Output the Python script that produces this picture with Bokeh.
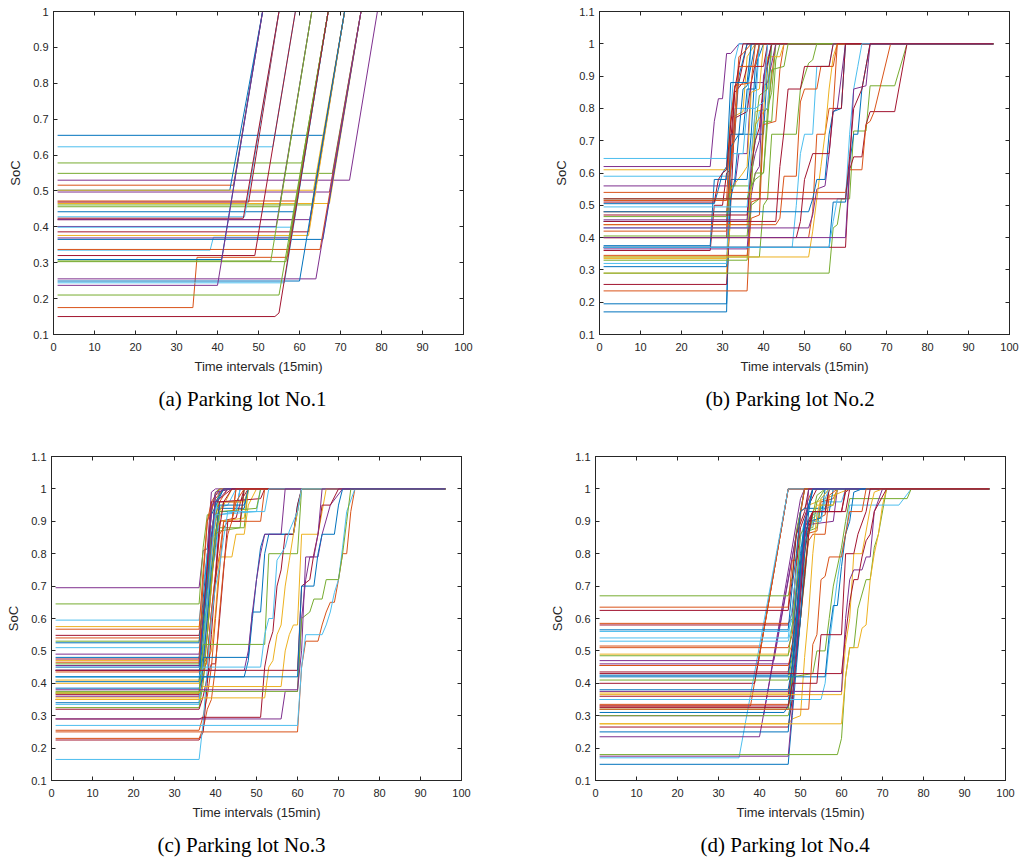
from bokeh.plotting import figure
from bokeh.models import (Range1d, FixedTicker, LinearAxis, CustomJSTickFormatter,
                          Title, ColumnDataSource)
from bokeh.layouts import column, row
from bokeh.embed import file_html
from bokeh.resources import INLINE

# ---------------- data ----------------
COLORS = ["#0072BD", "#D95319", "#EDB120", "#7E2F8E", "#77AC30", "#4DBEEE", "#A2142F"]
START = 1          # first time interval
HORIZON = 96       # last time interval
FULL = 1.0         # full state of charge
X_TICKS = [0, 10, 20, 30, 40, 50, 60, 70, 80, 90, 100]
Y_TICKS_1 = [0.1, 0.2, 0.3, 0.4, 0.5, 0.6, 0.7, 0.8, 0.9, 1.0]
Y_TICKS_2 = [0.1, 0.2, 0.3, 0.4, 0.5, 0.6, 0.7, 0.8, 0.9, 1.0, 1.1]
X_LABEL = "Time intervals (15min)"
Y_LABEL = "SoC"
CAPTIONS = ["(a) Parking lot No.1", "(b) Parking lot No.2",
            "(c) Parking lot No.3", "(d) Parking lot No.4"]

# each vehicle: (colour index, [(interval, SoC) break points after the idle period])
LOT1 = [
    (0, [(66, 0.655), (71, 1)]),
    (5, [(53.5, 0.623), (59, 1)]),
    (4, [(60.6, 0.578), (67, 1)]),
    (4, [(68, 0.549), (75, 1)]),
    (3, [(72.2, 0.530), (79, 1)]),
    (1, [(43.9, 0.516), (51, 1)]),
    (0, [(43, 0.502), (51, 1)]),
    (2, [(63.4, 0.502), (71, 1)]),
    (3, [(67.3, 0.497), (75, 1)]),
    (1, [(59.2, 0.472), (67, 1)]),
    (6, [(47.6, 0.469), (55, 1)]),
    (2, [(67.3, 0.465), (75, 1)]),
    (4, [(63, 0.461), (71, 1)]),
    (4, [(55.2, 0.456), (63, 1)]),
    (0, [(59, 0.442), (67, 1)]),
    (5, [(46.6, 0.428), (55, 1)]),
    (6, [(46.3, 0.424), (55, 1)]),
    (6, [(58.4, 0.420), (67, 1)]),
    (3, [(62.5, 0.420), (71, 1)]),
    (3, [(54.3, 0.401), (63, 1)]),
    (5, [(58.4, 0.399), (67, 1)]),
    (6, [(62.2, 0.386), (71, 1)]),
    (2, [(62.2, 0.376), (71, 1)]),
    (5, [(38.2, 0.335), (39, 0.371), (57.7, 0.371), (67, 1)]),
    (3, [(57.7, 0.369), (67, 1)]),
    (0, [(65.7, 0.365), (75, 1)]),
    (1, [(65, 0.337), (75, 1)]),
    (6, [(49.1, 0.320), (59, 1)]),
    (1, [(34, 0.175), (35, 0.315), (57, 0.315), (67, 1)]),
    (4, [(53, 0.305), (63, 1)]),
    (4, [(56.7, 0.303), (67, 1)]),
    (0, [(41, 0.309), (51, 1)]),
    (3, [(64, 0.255), (75, 1)]),
    (0, [(60, 0.249), (71, 1)]),
    (5, [(56.3, 0.244), (67, 1)]),
    (3, [(40, 0.237), (51, 1)]),
    (4, [(55, 0.210), (67, 1)]),
    (6, [(54, 0.150), (55, 0.160), (67, 1)]),
]

LOT2 = [
    (3, [(27, 0.62), (28, 0.76), (29, 0.83), (30, 0.83), (31, 0.97), (32, 0.97), (34, 1)]),
    (5, [(31, 0.645), (32, 0.78), (33, 0.95), (34, 1)]),
    (2, [(31, 0.61), (32, 0.77), (35, 0.79), (36, 0.96), (38, 1)]),
    (5, [(32, 0.59), (33, 0.8), (36, 0.8), (37, 1)]),
    (3, [(33, 0.56), (34, 0.66), (36, 0.66), (37, 0.88), (40, 0.88), (41, 1)]),
    (0, [(31, 0.17), (32, 0.72), (35, 0.72), (36, 0.86), (38, 0.86), (39, 1)]),
    (0, [(31, 0.195), (32, 0.58), (33, 0.58), (34, 0.72), (37, 0.72), (38, 0.93), (40, 1)]),
    (6, [(31, 0.255), (32, 0.5), (33, 0.77), (36, 0.79), (37, 0.88), (39, 1)]),
    (1, [(36, 0.235), (37, 0.51), (39, 0.52), (40, 0.79), (41, 0.8), (43, 1)]),
    (2, [(31, 0.29), (32, 0.55), (35, 0.6), (36, 0.62), (37, 0.85), (39, 0.86), (40, 1)]),
    (0, [(31, 0.31), (32, 0.52), (33, 0.58), (36, 0.58), (37, 0.72), (40, 0.72), (41, 0.93), (42, 1)]),
    (5, [(31, 0.32), (32, 0.66), (35, 0.66), (36, 0.8), (38, 0.8), (39, 1)]),
    (4, [(36, 0.33), (37, 0.5), (39, 0.52), (40, 0.76), (42, 0.76), (43, 0.95), (44, 1)]),
    (2, [(31, 0.335), (32, 0.45), (36, 0.45), (37, 0.63), (38, 0.79), (41, 0.8), (42, 1)]),
    (1, [(36, 0.345), (37, 0.46), (39, 0.47), (40, 0.75), (43, 0.76), (44, 0.92), (45, 1)]),
    (6, [(27, 0.36), (28, 0.5), (30, 0.5), (31, 0.6), (32, 0.61), (33, 0.87), (34, 0.88), (36, 1)]),
    (0, [(27, 0.375), (28, 0.58), (31, 0.58), (32, 0.72), (33, 0.72), (34, 0.9), (36, 1)]),
    (3, [(36, 0.365), (37, 0.53), (38, 0.6), (39, 0.62), (40, 0.9), (42, 1)]),
    (6, [(31, 0.40), (32, 0.7), (33, 0.85), (35, 0.88), (36, 0.93), (40, 0.93), (41, 1)]),
    (4, [(36, 0.405), (37, 0.55), (38, 0.6), (40, 0.6), (41, 0.8), (42, 0.85), (43, 1)]),
    (1, [(31, 0.42), (32, 0.62), (33, 0.78), (34, 0.96), (35, 0.97), (37, 1)]),
    (5, [(36, 0.43), (37, 0.62), (38, 0.7), (39, 0.79), (41, 0.8), (42, 1)]),
    (2, [(36, 0.44), (37, 0.55), (38, 0.75), (40, 0.79), (41, 0.96), (44, 0.96), (45, 1)]),
    (0, [(31, 0.45), (32, 0.68), (34, 0.72), (35, 0.86), (36, 0.87), (38, 1)]),
    (3, [(36, 0.455), (37, 0.6), (38, 0.66), (39, 0.7), (40, 0.87), (41, 0.88), (43, 1)]),
    (4, [(31, 0.465), (32, 0.56), (37, 0.56), (38, 0.74), (39, 0.84), (41, 0.86), (42, 1)]),
    (6, [(36, 0.47), (37, 0.62), (38, 0.7), (39, 0.74), (40, 0.88), (42, 1)]),
    (1, [(31, 0.48), (32, 0.62), (33, 0.72), (34, 0.93), (38, 0.93), (39, 1)]),
    (5, [(36, 0.495), (37, 0.66), (38, 0.8), (40, 0.82), (41, 1)]),
    (0, [(28, 0.505), (29, 0.55), (30, 0.6), (31, 0.62), (32, 0.88), (36, 0.88), (37, 1)]),
    (1, [(31, 0.515), (32, 0.77), (33, 0.87), (37, 0.88), (38, 1)]),
    (6, [(28, 0.51), (29, 0.58), (30, 0.6), (31, 0.61), (32, 0.75), (33, 0.86), (35, 1)]),
    (4, [(36, 0.52), (37, 0.56), (38, 0.58), (40, 0.6), (42, 0.92), (45, 0.93), (46, 1)]),
    (4, [(39, 0.34), (40, 0.5), (41, 0.52), (42, 0.72), (48, 0.72), (49, 0.86), (51, 0.94), (52, 0.95), (53, 1)]),
    (5, [(47, 0.37), (48, 0.5), (49, 0.66), (50, 0.72), (52, 0.72), (53, 0.93), (56, 0.93), (57, 1)]),
    (1, [(51, 0.40), (52, 0.48), (53, 0.72), (55, 0.72), (56, 0.8), (57, 0.8), (58, 1)]),
    (3, [(51, 0.43), (52, 0.47), (53, 0.55), (55, 0.56), (56, 0.66), (57, 0.79), (58, 0.8), (60, 1)]),
    (2, [(51, 0.34), (52, 0.42), (53, 0.52), (54, 0.62), (55, 0.72), (56, 0.86), (57, 0.96), (58, 1)]),
    (0, [(51, 0.48), (52, 0.52), (53, 0.58), (55, 0.58), (56, 0.72), (57, 0.79), (59, 0.8), (60, 1)]),
    (1, [(43, 0.44), (44, 0.46), (45, 0.59), (48, 0.59), (49, 0.82), (50, 0.86), (53, 0.86), (54, 0.93), (57, 0.93), (58, 1)]),
    (6, [(43, 0.45), (44, 0.62), (45, 0.73), (46, 0.86), (49, 0.86), (50, 0.93), (56, 0.93), (57, 1)]),
    (6, [(48, 0.40), (49, 0.45), (50, 0.58), (52, 0.66), (56, 0.66), (57, 0.8), (59, 0.8), (60, 1)]),
    (4, [(56, 0.29), (57, 0.43), (58, 0.44), (59, 0.52), (61, 0.52), (62, 0.73), (65, 0.73), (66, 0.87), (72, 0.87), (75, 1)]),
    (6, [(60, 0.37), (61, 0.61), (62, 0.65), (64, 0.65), (65, 0.75), (66, 0.79), (72, 0.79), (75, 1)]),
    (1, [(60, 0.54), (61, 0.61), (64, 0.61), (65, 0.75), (66, 0.76), (67, 0.79), (71, 1)]),
    (0, [(56, 0.37), (57, 0.51), (60, 0.51), (61, 0.63), (62, 0.72), (63, 0.72), (64, 0.86), (65, 0.93), (66, 1)]),
    (5, [(56, 0.37), (57, 0.45), (58, 0.52), (60, 0.52), (61, 0.72), (62, 0.86), (63, 0.93), (64, 1)]),
    (3, [(60, 0.40), (61, 0.62), (62, 0.86), (65, 0.87), (66, 1)]),
    (6, [(52, 0.52), (60, 0.52), (61, 0.65), (62, 0.8), (64, 0.86), (65, 0.93), (66, 1)]),
]

LOT3 = [
    (3, [(36, 0.695), (37, 0.81), (38, 0.815), (39, 0.99), (40, 1)]),
    (4, [(36, 0.645), (37, 0.82), (38, 0.92), (39, 0.925), (40, 0.99), (41, 1)]),
    (5, [(36, 0.595), (37, 0.7), (38, 0.8), (39, 0.805), (40, 0.93), (41, 1)]),
    (2, [(36, 0.575), (37, 0.62), (38, 0.75), (40, 0.96), (42, 1)]),
    (1, [(36, 0.567), (37, 0.75), (38, 0.9), (39, 0.96), (41, 1)]),
    (6, [(36, 0.548), (37, 0.63), (38, 0.75), (40, 0.96), (41, 0.97), (44, 1)]),
    (1, [(36, 0.54), (37, 0.58), (38, 0.73), (39, 0.88), (41, 0.96), (43, 1)]),
    (4, [(36, 0.53), (37, 0.62), (38, 0.75), (40, 0.9), (41, 0.99), (43, 1)]),
    (0, [(36, 0.525), (37, 0.66), (38, 0.8), (39, 0.92), (42, 1)]),
    (5, [(36, 0.51), (37, 0.58), (38, 0.8), (40, 0.94), (43, 0.95), (45, 1)]),
    (3, [(36, 0.49), (37, 0.6), (38, 0.77), (39, 0.93), (40, 0.99), (44, 1)]),
    (0, [(36, 0.48), (37, 0.56), (38, 0.65), (39, 0.86), (41, 0.94), (47, 0.94), (48, 1)]),
    (6, [(36, 0.475), (37, 0.6), (38, 0.76), (39, 0.96), (46, 0.96), (48, 1)]),
    (2, [(36, 0.47), (37, 0.55), (38, 0.62), (40, 0.87), (42, 0.95), (44, 1)]),
    (1, [(36, 0.465), (37, 0.72), (38, 0.9), (40, 0.97), (42, 1)]),
    (4, [(36, 0.46), (37, 0.57), (38, 0.7), (39, 0.85), (41, 0.88), (47, 0.88), (48, 1)]),
    (3, [(36, 0.455), (37, 0.6), (38, 0.68), (39, 0.95), (41, 0.97), (43, 1)]),
    (0, [(36, 0.45), (37, 0.52), (38, 0.64), (40, 0.82), (41, 0.93), (45, 0.93), (46, 1)]),
    (6, [(36, 0.44), (38, 0.48), (39, 0.62), (40, 0.74), (41, 0.9), (45, 0.91), (47, 1)]),
    (1, [(36, 0.435), (37, 0.46), (38, 0.46), (39, 0.6), (40, 0.72), (41, 0.8), (42, 0.9), (44, 0.9), (45, 1)]),
    (5, [(36, 0.42), (37, 0.5), (38, 0.68), (40, 0.8), (41, 0.92), (45, 0.93), (46, 1)]),
    (2, [(36, 0.41), (37, 0.5), (38, 0.6), (39, 0.78), (40, 0.9), (42, 0.96), (47, 0.96), (48, 1)]),
    (0, [(36, 0.405), (37, 0.58), (38, 0.72), (39, 0.84), (40, 0.96), (42, 1)]),
    (2, [(36, 0.40), (37, 0.44), (39, 0.5), (40, 0.62), (41, 0.79), (44, 0.79), (45, 0.86), (47, 0.86), (48, 0.95), (50, 1)]),
    (4, [(36, 0.37), (37, 0.52), (38, 0.65), (39, 0.85), (41, 0.87), (46, 0.88), (47, 1)]),
    (6, [(36, 0.365), (37, 0.45), (38, 0.55), (39, 0.7), (40, 0.85), (41, 0.96), (51, 0.97), (52, 1)]),
    (3, [(36, 0.36), (37, 0.48), (38, 0.6), (39, 0.83), (40, 0.98), (42, 1)]),
    (2, [(36, 0.355), (37, 0.45), (38, 0.55), (39, 0.7), (40, 0.87), (41, 0.9), (47, 0.91), (48, 1)]),
    (1, [(36, 0.35), (37, 0.42), (38, 0.48), (39, 0.62), (40, 0.73), (41, 0.86), (43, 0.9), (51, 0.9), (52, 1)]),
    (0, [(36, 0.34), (37, 0.46), (38, 0.6), (39, 0.75), (40, 0.86), (41, 0.95), (47, 0.95), (48, 1)]),
    (5, [(36, 0.335), (37, 0.5), (38, 0.64), (39, 0.8), (40, 0.92), (50, 0.93), (51, 1)]),
    (4, [(36, 0.325), (37, 0.4), (38, 0.55), (39, 0.72), (40, 0.85), (41, 0.93), (50, 0.94), (51, 1)]),
    (6, [(36, 0.32), (37, 0.36), (38, 0.42), (39, 0.46), (40, 0.46), (41, 0.6), (42, 0.75), (43, 0.9), (46, 0.9), (47, 1)]),
    (1, [(36, 0.255), (37, 0.3), (38, 0.36), (39, 0.45), (40, 0.6), (41, 0.75), (42, 0.9), (44, 0.9), (45, 1)]),
    (1, [(36, 0.23), (37, 0.26), (38, 0.32), (39, 0.35), (40, 0.45), (41, 0.62), (42, 0.76), (43, 0.86), (44, 0.9), (45, 0.96), (47, 1)]),
    (6, [(36, 0.225), (37, 0.25), (38, 0.4), (39, 0.55), (40, 0.72), (41, 0.88), (42, 0.96), (44, 1)]),
    (5, [(36, 0.165), (37, 0.28), (38, 0.45), (39, 0.6), (40, 0.7), (41, 0.76), (42, 0.85), (43, 0.93), (52, 0.93), (53, 1)]),
    (0, [(36, 0.385), (37, 0.42), (47, 0.42), (48, 0.47), (49, 0.6), (50, 0.72), (51, 0.82), (52, 0.86), (59, 0.86), (60, 0.95), (61, 1)]),
    (0, [(36, 0.44), (37, 0.48), (48, 0.48), (49, 0.62), (51, 0.62), (52, 0.8), (53, 0.86), (59, 0.86), (61, 1)]),
    (4, [(36, 0.37), (37, 0.52), (52, 0.52), (53, 0.8), (60, 0.8), (61, 1)]),
    (3, [(36, 0.44), (47, 0.44), (48, 0.5), (49, 0.62), (50, 0.72), (51, 0.8), (52, 0.86), (56, 0.86), (57, 1)]),
    (6, [(36, 0.29), (37, 0.295), (51, 0.295), (52, 0.45), (53, 0.52), (54, 0.56), (55, 0.7), (56, 0.75), (57, 0.86), (59, 0.86), (60, 0.95), (61, 1)]),
    (2, [(36, 0.35), (37, 0.355), (52, 0.355), (53, 0.45), (54, 0.47), (55, 0.55), (56, 0.58), (57, 0.7), (58, 0.78), (59, 0.86), (61, 1)]),
    (5, [(36, 0.42), (37, 0.45), (51, 0.45), (52, 0.55), (53, 0.6), (54, 0.6), (55, 0.78), (57, 0.82), (58, 0.87), (60, 0.93), (61, 1)]),
    (2, [(36, 0.37), (37, 0.39), (56, 0.39), (57, 0.5), (58, 0.55), (59, 0.58), (60, 0.58), (61, 0.86), (65, 0.86), (66, 0.93), (67, 1)]),
    (3, [(36, 0.29), (56, 0.29), (57, 0.375), (60, 0.375), (61, 0.6), (62, 0.72), (63, 0.79), (65, 0.79), (66, 0.86), (68, 0.95), (71, 1)]),
    (1, [(60, 0.25), (61, 0.45), (62, 0.53), (65, 0.53), (66, 0.58), (67, 0.62), (68, 0.65), (69, 0.65), (70, 0.72), (71, 0.8), (72, 0.8), (73, 0.93), (74, 1)]),
    (5, [(60, 0.27), (61, 0.45), (62, 0.55), (66, 0.55), (67, 0.58), (68, 0.62), (69, 0.68), (70, 0.72), (71, 0.82), (72, 0.93), (74, 1)]),
    (6, [(60, 0.44), (61, 0.7), (63, 0.72), (64, 0.8), (65, 0.86), (66, 0.95), (68, 0.95), (70, 1)]),
    (4, [(60, 0.375), (61, 0.6), (63, 0.62), (64, 0.66), (66, 0.66), (67, 0.72), (70, 0.72), (71, 0.8), (72, 0.9), (73, 1)]),
    (0, [(60, 0.42), (61, 0.7), (64, 0.7), (65, 0.8), (66, 0.86), (69, 0.86), (70, 0.95), (71, 1)]),
    (3, [(60, 0.38), (61, 0.5), (62, 0.79), (64, 0.79), (65, 0.86), (66, 1)]),
]

LOT4 = [
    (1, [(37.8, 0.33), (47, 1)]),
    (6, [(38.8, 0.40), (47, 1)]),
    (1, [(40.4, 0.515), (47, 1)]),
    (1, [(39.6, 0.455), (47, 1)]),
    (5, [(35, 0.17), (47, 1)]),
    (3, [(40, 0.235), (51, 1)]),
    (3, [(43.5, 0.47), (51, 1)]),
    (3, [(41, 0.30), (50, 0.97), (51, 1)]),
    (4, [(47, 0.67), (48, 0.73), (49, 0.87), (50, 0.93), (51, 1)]),
    (1, [(47, 0.635), (48, 0.78), (49, 0.78), (50, 0.93), (51, 0.94), (53, 1)]),
    (6, [(47, 0.625), (48, 0.72), (49, 0.86), (51, 0.93), (52, 1)]),
    (1, [(47, 0.585), (48, 0.6), (49, 0.78), (50, 0.92), (51, 1)]),
    (6, [(47, 0.58), (48, 0.62), (49, 0.76), (50, 0.88), (52, 0.95), (54, 1)]),
    (0, [(47, 0.565), (48, 0.7), (49, 0.8), (50, 0.93), (51, 0.94), (56, 0.94), (57, 1)]),
    (5, [(47, 0.56), (48, 0.6), (49, 0.7), (50, 0.85), (51, 0.9), (54, 0.9), (55, 0.97), (57, 1)]),
    (5, [(47, 0.54), (48, 0.64), (49, 0.75), (50, 0.82), (52, 0.86), (53, 0.92), (58, 0.95), (59, 1)]),
    (5, [(47, 0.53), (48, 0.58), (49, 0.66), (50, 0.8), (51, 0.83), (52, 0.9), (54, 0.92), (56, 0.96), (60, 0.96), (61, 1)]),
    (1, [(47, 0.51), (48, 0.55), (49, 0.68), (50, 0.76), (51, 0.86), (54, 0.87), (55, 0.96), (58, 0.97), (59, 1)]),
    (2, [(47, 0.49), (48, 0.52), (49, 0.6), (50, 0.75), (51, 0.87), (52, 0.95), (60, 0.99), (62, 1)]),
    (4, [(47, 0.485), (48, 0.58), (49, 0.7), (50, 0.86), (51, 0.88), (53, 0.88), (54, 0.96), (56, 1)]),
    (3, [(47, 0.46), (48, 0.47), (49, 0.57), (50, 0.75), (51, 0.86), (52, 0.89), (58, 0.9), (59, 1)]),
    (1, [(47, 0.455), (48, 0.5), (49, 0.6), (50, 0.7), (51, 0.85), (53, 0.9), (56, 0.92), (57, 1)]),
    (6, [(47, 0.435), (48, 0.52), (49, 0.62), (50, 0.77), (51, 0.88), (53, 0.93), (60, 0.93), (61, 0.99), (62, 1)]),
    (0, [(47, 0.425), (48, 0.5), (49, 0.68), (50, 0.8), (51, 0.9), (52, 0.93), (57, 0.93), (58, 1)]),
    (4, [(47, 0.41), (48, 0.48), (49, 0.55), (50, 0.72), (51, 0.83), (52, 0.87), (54, 0.88), (55, 0.95), (58, 0.95), (59, 1)]),
    (0, [(47, 0.38), (48, 0.46), (49, 0.58), (50, 0.7), (51, 0.85), (52, 0.9), (55, 0.91), (56, 1)]),
    (2, [(47, 0.37), (48, 0.42), (49, 0.52), (50, 0.6), (51, 0.76), (52, 0.86), (53, 0.93), (54, 0.95), (58, 0.95), (59, 1)]),
    (6, [(47, 0.36), (48, 0.45), (49, 0.55), (50, 0.68), (51, 0.8), (52, 0.88), (53, 0.93), (56, 0.93), (57, 1)]),
    (5, [(47, 0.35), (48, 0.4), (49, 0.52), (50, 0.62), (51, 0.72), (52, 0.86), (53, 0.9), (55, 0.9), (56, 0.97), (57, 1)]),
    (1, [(47, 0.335), (48, 0.36), (49, 0.48), (50, 0.6), (51, 0.75), (52, 0.84), (53, 0.86), (56, 0.86), (57, 0.98), (59, 1)]),
    (6, [(47, 0.325), (48, 0.4), (49, 0.5), (50, 0.66), (51, 0.86), (53, 0.93), (61, 0.93), (62, 1)]),
    (4, [(47, 0.30), (48, 0.35), (49, 0.48), (50, 0.6), (51, 0.72), (52, 0.86), (53, 0.92), (54, 0.98), (56, 1)]),
    (0, [(46, 0.31), (47, 0.33), (48, 0.45), (49, 0.6), (50, 0.76), (51, 0.88), (52, 0.95), (53, 1)]),
    (2, [(47, 0.275), (48, 0.29), (50, 0.3), (51, 0.48), (52, 0.62), (53, 0.8), (54, 0.92), (55, 0.97), (57, 1)]),
    (6, [(47, 0.265), (48, 0.35), (49, 0.48), (50, 0.6), (51, 0.73), (52, 0.86), (53, 0.93), (60, 0.93), (61, 1)]),
    (0, [(47, 0.25), (48, 0.4), (49, 0.55), (50, 0.75), (51, 0.9), (52, 0.95), (53, 1)]),
    (0, [(47, 0.15), (48, 0.3), (49, 0.45), (50, 0.6), (51, 0.8), (52, 0.93), (53, 1)]),
    (3, [(47, 0.175), (48, 0.32), (49, 0.5), (50, 0.7), (51, 0.85), (52, 1)]),
    (4, [(59, 0.18), (60, 0.23), (61, 0.42), (62, 0.51), (63, 0.51), (64, 0.63), (66, 0.72), (67, 0.72), (68, 0.82), (69, 0.86), (71, 1)]),
    (2, [(60, 0.275), (61, 0.42), (62, 0.51), (64, 0.51), (65, 0.57), (66, 0.58), (67, 0.72), (68, 0.8), (69, 0.86), (70, 0.95), (71, 1)]),
    (5, [(55, 0.35), (56, 0.4), (57, 0.52), (58, 0.62), (59, 0.72), (60, 0.8), (61, 0.86), (62, 0.95), (74, 0.95), (77, 1)]),
    (4, [(47, 0.32), (48, 0.42), (53, 0.43), (54, 0.5), (56, 0.5), (57, 0.6), (58, 0.7), (60, 0.82), (61, 0.9), (62, 0.97), (76, 0.97), (77, 1)]),
    (2, [(60, 0.365), (61, 0.52), (62, 0.6), (63, 0.8), (65, 0.8), (66, 0.87), (67, 0.94), (68, 0.99), (70, 1)]),
    (3, [(60, 0.375), (61, 0.6), (62, 0.72), (63, 0.75), (65, 0.75), (66, 0.79), (67, 0.79), (68, 0.93), (70, 1)]),
    (6, [(60, 0.43), (61, 0.55), (62, 0.65), (63, 0.72), (64, 0.72), (65, 0.79), (66, 0.84), (67, 0.86), (68, 0.93), (71, 1)]),
    (0, [(56, 0.42), (57, 0.55), (58, 0.64), (59, 0.64), (60, 0.76), (61, 0.86), (62, 0.9), (63, 0.99), (65, 1)]),
    (1, [(52, 0.32), (53, 0.52), (54, 0.55), (55, 0.72), (56, 0.73), (57, 0.79), (60, 0.79), (61, 0.86), (62, 0.93), (65, 0.93), (66, 1)]),
    (6, [(47, 0.33), (48, 0.4), (54, 0.4), (55, 0.55), (60, 0.55), (61, 0.8), (63, 0.8), (64, 0.86), (66, 0.93), (67, 1)]),
]

# ---------------- styling ----------------
AX = "#262626"
TICK_FONT = "Liberation Sans"
CAP_FONT = "Liberation Serif"


def make_panel(vehicles, y_top, y_ticks, caption, bl, br, bt, bb, fh, cap_offset):
    p = figure(frame_width=410, frame_height=fh,
               x_range=Range1d(0, 100), y_range=Range1d(0.1, y_top),
               output_backend="svg", toolbar_location=None,
               min_border_left=bl, min_border_right=br,
               min_border_top=bt, min_border_bottom=bb,
               background_fill_color="white", border_fill_color="white")
    p.xgrid.visible = False
    p.ygrid.visible = False
    p.outline_line_color = AX
    p.outline_line_width = 1

    xs, ys, cs = [], [], []
    for ci, knots in vehicles:
        xs.append([START] + [k[0] for k in knots] + [HORIZON])
        ys.append([knots[0][1]] + [k[1] for k in knots] + [FULL])
        cs.append(COLORS[ci])
    src = ColumnDataSource(dict(xs=xs, ys=ys, c=cs))
    p.multi_line("xs", "ys", line_color="c", line_width=1, source=src)

    xf = CustomJSTickFormatter(code="return String(Math.round(tick));")
    yf = CustomJSTickFormatter(code="return String(Math.round(tick*10)/10);")
    blank = CustomJSTickFormatter(code="return '';")

    for ax, tk, fmt in ((p.xaxis[0], X_TICKS, xf), (p.yaxis[0], y_ticks, yf)):
        ax.ticker = FixedTicker(ticks=tk)
        ax.formatter = fmt
        ax.major_tick_in = 4
        ax.major_tick_out = 0
        ax.minor_tick_in = 0
        ax.minor_tick_out = 0
        ax.axis_line_color = AX
        ax.major_tick_line_color = AX
        ax.major_label_text_color = AX
        ax.major_label_text_font = TICK_FONT
        ax.major_label_text_font_size = "11px"
        ax.axis_label_text_font = TICK_FONT
        ax.axis_label_text_font_size = "13px"
        ax.axis_label_text_font_style = "normal"
        ax.axis_label_text_color = AX
    p.xaxis[0].axis_label = X_LABEL
    p.xaxis[0].major_label_standoff = 8
    p.xaxis[0].axis_label_standoff = 5
    p.yaxis[0].axis_label = Y_LABEL
    p.yaxis[0].major_label_standoff = 5
    p.yaxis[0].axis_label_standoff = 7

    for loc, tk in (("above", X_TICKS), ("right", y_ticks)):
        a = LinearAxis(ticker=FixedTicker(ticks=tk), formatter=blank,
                       major_tick_in=4, major_tick_out=0,
                       minor_tick_in=0, minor_tick_out=0,
                       axis_line_color=AX, major_tick_line_color=AX,
                       major_label_standoff=0,
                       major_label_text_font_size="0px")
        p.add_layout(a, loc)

    p.add_layout(Title(text=caption, align="left", text_font=CAP_FONT,
                       text_font_size="21px", text_font_style="normal",
                       text_color="black", standoff=17, offset=cap_offset), "below")
    return p


pa = make_panel(LOT1, 1.0, Y_TICKS_1, CAPTIONS[0], 53, 77, 11, 106, 323, 105)
pb = make_panel(LOT2, 1.1, Y_TICKS_2, CAPTIONS[1], 59, 14, 11, 106, 323, 106)
pc = make_panel(LOT3, 1.1, Y_TICKS_2, CAPTIONS[2], 51, 79, 16, 80, 324, 106)
pd = make_panel(LOT4, 1.1, Y_TICKS_2, CAPTIONS[3], 55, 18, 16, 80, 324, 105)

layout = column(row(pa, pb), row(pc, pd))
open("out.html", "w").write(file_html(layout, INLINE))
